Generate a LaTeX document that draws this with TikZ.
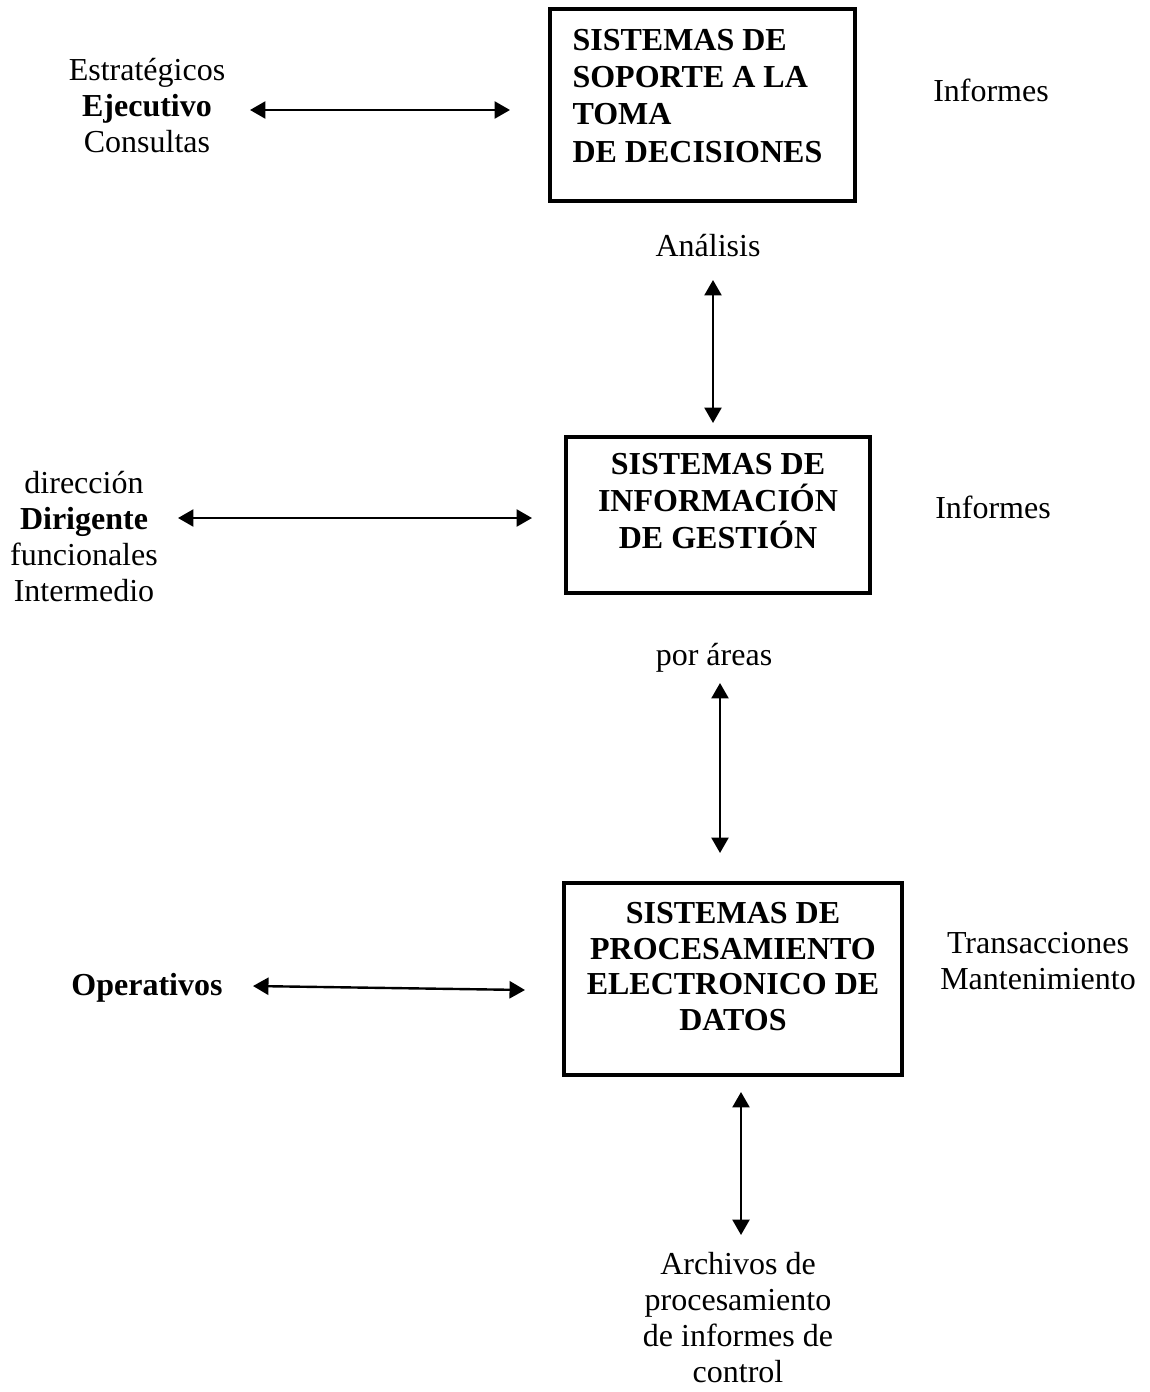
\documentclass[tikz,border=0pt]{standalone}
\usepackage{fontspec}
\setmainfont{Liberation Serif}
\usetikzlibrary{arrows.meta}

\begin{document}
\begin{tikzpicture}[x=0.375pt, y=-0.375pt,
  lbl/.style={inner sep=0pt, anchor=base, align=center, font=\fontsize{12}{13.8}\selectfont},
  boxtxt/.style={inner sep=0pt, anchor=base, align=center, font=\fontsize{12}{13.8}\selectfont\bfseries},
  sysbox/.style={draw, line width=1.2pt, inner sep=0pt},
  biarrow/.style={line width=0.9pt, {Triangle[length=5.8pt,width=6.4pt]}-{Triangle[length=5.8pt,width=6.4pt]}}
]
\useasboundingbox (0,0) rectangle (1149,1392);

% --- system boxes ---
\node[sysbox, minimum width={305*0.375pt}, minimum height={192*0.375pt}] (dss) at (702.5,105) {};
\node[sysbox, minimum width={304*0.375pt}, minimum height={156*0.375pt}] (mis) at (718,515) {};
\node[sysbox, minimum width={338*0.375pt}, minimum height={192*0.375pt}] (edp) at (733,979) {};

% --- box captions (anchored on the baseline of their last line) ---
\node[boxtxt, anchor=base west, align=left, font=\fontsize{12}{14}\selectfont\bfseries] (dsst) at (572,162)
  {SISTEMAS DE\\SOPORTE A LA\\TOMA\\DE DECISIONES};
\node[boxtxt, font=\fontsize{12}{13.7}\selectfont\bfseries] (mist) at (718,548)
  {SISTEMAS DE\\INFORMACIÓN\\DE GESTIÓN};
\node[boxtxt, font=\fontsize{12}{13.3}\selectfont\bfseries] (edpt) at (733,1030)
  {SISTEMAS DE\\PROCESAMIENTO\\ELECTRONICO DE\\DATOS};

% --- side labels ---
\node[lbl, font=\fontsize{12}{13.5}\selectfont] (ejec) at (147,152)
  {Estratégicos\\\textbf{Ejecutivo}\\Consultas};
\node[lbl] (inf1) at (991,101) {Informes};
\node[lbl] (anal) at (708,256) {Análisis};
\node[lbl, font=\fontsize{12}{13.5}\selectfont] (dirg) at (84,601)
  {dirección\\\textbf{Dirigente}\\funcionales\\Intermedio};
\node[lbl] (inf2) at (993,518) {Informes};
\node[lbl] (area) at (714,665) {por áreas};
\node[lbl, font=\fontsize{12}{13.3}\selectfont] (tran) at (1038,989)
  {Transacciones\\Mantenimiento};
\node[lbl] (oper) at (147,995) {\textbf{Operativos}};
\node[lbl, font=\fontsize{12}{13.5}\selectfont] (arch) at (738,1382)
  {Archivos de\\procesamiento\\de informes de\\control};

% --- connector end points ---
\coordinate (e1a) at (250,110);  \coordinate (e1b) at (510,110);
\coordinate (e2a) at (713,280);  \coordinate (e2b) at (713,423);
\coordinate (e3a) at (178,518);  \coordinate (e3b) at (532,518);
\coordinate (e4a) at (720,683);  \coordinate (e4b) at (720,853);
\coordinate (e5a) at (253,986);  \coordinate (e5b) at (525,990);
\coordinate (e6a) at (741,1092); \coordinate (e6b) at (741,1235);

% --- double-headed connectors ---
\draw[biarrow] (e1a) -- (e1b);
\draw[biarrow] (e2a) -- (e2b);
\draw[biarrow] (e3a) -- (e3b);
\draw[biarrow] (e4a) -- (e4b);
\draw[biarrow] (e5a) -- (e5b);
\draw[biarrow] (e6a) -- (e6b);
\end{tikzpicture}
\end{document}
